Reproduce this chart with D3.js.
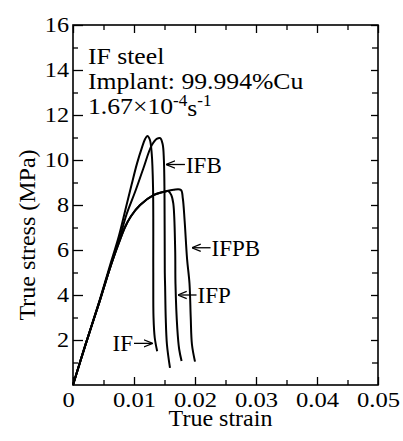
<!DOCTYPE html>
<html>
<head>
<meta charset="utf-8">
<script src="https://cdn.jsdelivr.net/npm/d3@7"></script>
<style>
  body { margin: 0; background: #fff; }
  text { font-family: "Liberation Serif", "Times New Roman", serif; fill: #000; }
</style>
</head>
<body>
<div id="chart"></div>
<script>
// stress-strain curves of implanted IF steel
const seriesNames = ["IF", "IFB", "IFP", "IFPB"];

const ifStrain = [0, 0.002, 0.0044, 0.006, 0.0075, 0.0086, 0.0096, 0.0105, 0.0113, 0.0118, 0.0122, 0.0126, 0.0129, 0.01312, 0.01316, 0.0132, 0.0134, 0.0138];
const ifStress = [0, 1.75, 3.8, 5.25, 6.6, 7.8, 8.9, 9.85, 10.55, 10.92, 11.07, 10.9, 10.3, 8.8, 5.0, 3.0, 2.1, 1.5];

const ifbStrain = [0, 0.002, 0.0044, 0.006, 0.0075, 0.0088, 0.0102, 0.0115, 0.0129, 0.0138, 0.0143, 0.0147, 0.0149, 0.0150, 0.01505, 0.0151, 0.0152, 0.0154, 0.0159];
const ifbStress = [0, 1.75, 3.75, 5.15, 6.4, 7.6, 8.6, 9.6, 10.65, 10.95, 10.97, 10.7, 10.0, 8.5, 5.0, 4.4, 3.0, 1.8, 0.76];

const ifpStrain = [0, 0.002, 0.0044, 0.006, 0.0075, 0.0085, 0.0095, 0.011, 0.0132, 0.0151, 0.0156, 0.0161, 0.01644, 0.01675, 0.0168, 0.0171, 0.0174, 0.0178];
const ifpStress = [0, 1.75, 3.75, 5.15, 6.3, 7.0, 7.5, 8.0, 8.44, 8.6, 8.62, 8.45, 8.07, 6.0, 4.5, 2.5, 1.6, 1.07];

const ifpbStrain = [0, 0.002, 0.0044, 0.006, 0.0075, 0.0085, 0.0095, 0.011, 0.0132, 0.0151, 0.0165, 0.0177, 0.0180, 0.0183, 0.0187, 0.0191, 0.0193, 0.0195, 0.0200];
const ifpbStress = [0, 1.75, 3.75, 5.15, 6.3, 7.0, 7.5, 8.0, 8.44, 8.6, 8.68, 8.67, 8.3, 7.3, 5.6, 4.5, 3.0, 1.8, 1.04];

const xTicks = [0, 0.01, 0.02, 0.03, 0.04, 0.05];
const xTickLabels = ["0", "0.01", "0.02", "0.03", "0.04", "0.05"];
const yTicks = [2, 4, 6, 8, 10, 12, 14, 16];
const yTickLabels = ["2", "4", "6", "8", "10", "12", "14", "16"];

// where each label sits, in data units: [strain, stress] of the arrow tip
const labelTips = [[0.01295, 1.85], [0.0154, 9.8], [0.0173, 4.0], [0.0196, 6.1]];

const margin = {top: 25, right: 25, bottom: 56, left: 73},
  width = 403 - margin.left - margin.right,
  height = 441 - margin.top - margin.bottom;

const svg = d3.select("#chart")
.append("svg")
  .attr("width", width + margin.left + margin.right)
  .attr("height", height + margin.top + margin.bottom)
.append("g")
  .attr("transform", `translate(${margin.left}, ${margin.top})`);

const x = d3.scaleLinear().domain([0, 0.05]).range([0, width]);
const y = d3.scaleLinear().domain([0, 16]).range([height, 0]);

const minorX = d3.range(0.005, 0.05, 0.01);
const minorY = d3.range(1, 16, 2);

// bottom axis with labels (the scanned digits are wider than Times, so scale x)
const xAxis = svg.append("g")
  .attr("transform", `translate(0, ${height})`)
  .call(d3.axisBottom(x).tickValues(xTicks).tickSize(-8).tickPadding(7)
    .tickFormat((d, i) => xTickLabels[i]));
xAxis.selectAll("text")
  .attr("font-size", "20.5px")
  .attr("x", (d, i) => i === 0 ? -4 : 0)
  .attr("transform", "scale(1.2,1)");
svg.append("g")
  .attr("transform", `translate(0, ${height})`)
  .call(d3.axisBottom(x).tickValues(minorX).tickSize(-5).tickFormat(""));

// left axis with labels
const yAxis = svg.append("g")
  .call(d3.axisLeft(y).tickValues(yTicks).tickSize(-10).tickPadding(4)
    .tickFormat((d, i) => yTickLabels[i]));
yAxis.selectAll("text")
  .attr("font-size", "20.5px")
  .attr("x", -3.4)
  .attr("transform", "scale(1.18,1)");
svg.append("g")
  .call(d3.axisLeft(y).tickValues(minorY).tickSize(-5).tickFormat(""));

// top and right: ticks only
svg.append("g").call(d3.axisTop(x).tickValues(xTicks).tickSize(-8).tickFormat(""));
svg.append("g").call(d3.axisTop(x).tickValues(minorX).tickSize(-5).tickFormat(""));
svg.append("g").attr("transform", `translate(${width}, 0)`)
  .call(d3.axisRight(y).tickValues(yTicks).tickSize(-7).tickFormat(""));
svg.append("g").attr("transform", `translate(${width}, 0)`)
  .call(d3.axisRight(y).tickValues(minorY).tickSize(-6).tickFormat(""));

svg.selectAll(".domain").remove();
svg.selectAll(".tick line").attr("stroke", "#000").attr("stroke-width", 1.3);

svg.append("rect")
  .attr("width", width).attr("height", height)
  .attr("fill", "none").attr("stroke", "#000").attr("stroke-width", 1.6);

// curves
const strains = [ifStrain, ifbStrain, ifpStrain, ifpbStrain];
const stresses = [ifStress, ifbStress, ifpStress, ifpbStress];
const line = d3.line()
  .x(d => x(d[0]))
  .y(d => y(d[1]))
  .curve(d3.curveCatmullRom.alpha(0.5));

svg.selectAll(".curve")
  .data(seriesNames)
  .join("path")
    .attr("class", "curve")
    .attr("d", (d, i) => line(strains[i].map((s, j) => [s, stresses[i][j]])))
    .attr("fill", "none")
    .attr("stroke", "#000")
    .attr("stroke-width", 2);

// arrow labels
svg.append("defs").append("marker")
  .attr("id", "head")
  .attr("viewBox", "0 0 10 10")
  .attr("refX", 9).attr("refY", 5)
  .attr("markerWidth", 7).attr("markerHeight", 7)
  .attr("orient", "auto-start-reverse")
  .append("path")
    .attr("d", "M0,1 L10,5 L0,9")
    .attr("fill", "none").attr("stroke", "#000").attr("stroke-width", 1.4);

const arrowLen = 18;
labelTips.forEach(function(t, i) {
  const tx = x(t[0]), ty = y(t[1]);
  const dir = i === 0 ? -1 : 1; // "IF→" sits left of its curve
  const g = svg.append("g");
  g.append("line")
    .attr("x1", tx + dir * arrowLen).attr("y1", ty).attr("x2", tx).attr("y2", ty)
    .attr("stroke", "#000").attr("stroke-width", 1.3)
    .attr("marker-end", "url(#head)");
  g.append("text")
    .attr("x", tx + dir * (arrowLen + 1)).attr("y", ty + 8)
    .attr("text-anchor", dir < 0 ? "end" : "start")
    .attr("font-size", "23px")
    .text(seriesNames[i]);
});

// annotation
const note = svg.append("g").attr("font-size", "24px");
note.append("text").attr("transform", "translate(15,39) scale(1.07,1)").text("IF steel");
note.append("text").attr("transform", "translate(15,64) scale(1.07,1)").text("Implant: 99.994%Cu");
const rate = note.append("text").attr("transform", "translate(15,89) scale(1.07,1)");
rate.append("tspan").text("1.67\u00d710");
rate.append("tspan").attr("dy", -8).attr("font-size", "16px").text("-4");
rate.append("tspan").attr("dy", 10).text("s");
rate.append("tspan").attr("dy", -10).attr("font-size", "16px").text("-1");

// axis titles
svg.append("text")
  .attr("x", width / 2 - 5).attr("y", height + 41)
  .attr("text-anchor", "middle").attr("font-size", "24px")
  .text("True strain");
svg.append("text")
  .attr("transform", `translate(-38, ${height / 2 + 30}) rotate(-90)`)
  .attr("text-anchor", "middle").attr("font-size", "24px")
  .text("True stress (MPa)");
</script>
</body>
</html>
